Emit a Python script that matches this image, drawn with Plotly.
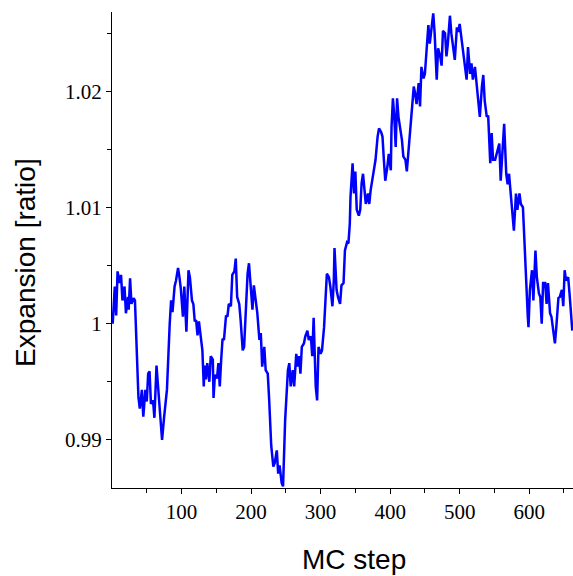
import plotly.graph_objects as go

mc_step = [1, 4, 6, 8, 11, 13, 15, 18, 20, 23, 24, 26, 28, 31, 33, 36, 38, 40, 43, 45,
           48, 50, 52, 54, 56, 59, 61, 64, 67, 69, 72, 75, 79, 83, 85, 87, 90, 92, 95, 97,
           99, 102, 104, 107, 110, 112, 115, 117, 119, 121, 123, 125, 128, 130, 132, 133, 135, 137, 140, 142,
           145, 146, 148, 151, 153, 155, 157, 159, 161, 164, 166, 168, 171, 173, 176, 178, 180, 183, 185, 188,
           190, 192, 195, 197, 200, 202, 204, 207, 209, 212, 214, 216, 219, 221, 224, 226, 227, 229, 232, 234,
           237, 239, 241, 244, 246, 249, 253, 255, 257, 259, 260, 262, 265, 267, 269, 271, 273, 276, 278, 281,
           283, 286, 288, 290, 293, 295, 297, 300, 302, 305, 307, 309, 312, 314, 317, 319, 320, 323, 325, 328,
           330, 333, 335, 338, 340, 342, 343, 346, 348, 350, 352, 355, 357, 359, 361, 363, 365, 368, 370, 372,
           375, 377, 379, 382, 384, 387, 389, 391, 393, 396, 398, 401, 402, 404, 406, 408, 410, 412, 414, 417,
           419, 422, 424, 427, 429, 431, 434, 436, 438, 441, 443, 445, 448, 450, 452, 455, 457, 460, 462, 464,
           467, 469, 472, 474, 476, 479, 481, 483, 486, 488, 491, 493, 496, 498, 500, 503, 505, 508, 510, 512,
           515, 517, 519, 522, 524, 527, 529, 532, 534, 536, 539, 541, 544, 546, 548, 551, 553, 557, 559, 562,
           564, 567, 569, 571, 574, 576, 578, 581, 583, 586, 588, 591, 593, 595, 598, 599, 601, 604, 606, 609,
           611, 614, 616, 618, 620, 623, 625, 627, 630, 632, 635, 637, 639, 642, 644, 647, 649, 651, 653, 656,
           658, 660, 662]

expansion = [1.0000, 1.0032, 1.0007, 1.0045, 1.0035, 1.0042, 1.0020, 1.0032, 1.0009, 1.0023,
             1.0012, 1.0039, 1.0017, 1.0022, 1.0020, 0.9972, 0.9937, 0.9927, 0.9943, 0.9920,
             0.9943, 0.9933, 0.9957, 0.9959, 0.9931, 0.9934, 0.9919, 0.9964, 0.9940, 0.9919,
             0.9900, 0.9920, 0.9943, 1.0000, 1.0020, 1.0010, 1.0032, 1.0037, 1.0048, 1.0040,
             1.0030, 1.0006, 1.0032, 0.9993, 1.0046, 1.0040, 1.0020, 1.0017, 1.0002, 1.0003,
             0.9990, 1.0002, 0.9983, 0.9977, 0.9946, 0.9964, 0.9952, 0.9966, 0.9950, 0.9972,
             0.9969, 0.9936, 0.9956, 0.9953, 0.9966, 0.9946, 0.9969, 0.9987, 0.9986, 1.0007,
             1.0006, 1.0017, 1.0015, 1.0042, 1.0045, 1.0056, 1.0023, 1.0017, 1.0003, 0.9977,
             0.9980, 1.0006, 1.0043, 1.0052, 1.0026, 1.0012, 1.0033, 1.0017, 1.0009, 0.9986,
             0.9992, 0.9963, 0.9980, 0.9960, 0.9957, 0.9935, 0.9917, 0.9895, 0.9877, 0.9880,
             0.9891, 0.9871, 0.9878, 0.9863, 0.9860, 0.9917, 0.9960, 0.9966, 0.9946, 0.9957,
             0.9960, 0.9946, 0.9974, 0.9963, 0.9972, 0.9957, 0.9980, 0.9983, 0.9989, 0.9994,
             0.9986, 0.9989, 0.9972, 1.0005, 0.9946, 0.9934, 0.9980, 0.9974, 0.9977, 0.9997,
             1.0026, 1.0043, 1.0040, 1.0032, 1.0015, 1.0037, 1.0065, 1.0029, 1.0023, 1.0017,
             1.0033, 1.0035, 1.0063, 1.0070, 1.0069, 1.0086, 1.0109, 1.0138, 1.0112, 1.0131,
             1.0098, 1.0093, 1.0098, 1.0121, 1.0129, 1.0118, 1.0103, 1.0112, 1.0103, 1.0115,
             1.0126, 1.0136, 1.0141, 1.0161, 1.0168, 1.0165, 1.0161, 1.0141, 1.0123, 1.0135,
             1.0146, 1.0132, 1.0169, 1.0194, 1.0178, 1.0152, 1.0194, 1.0178, 1.0169, 1.0158,
             1.0144, 1.0141, 1.0131, 1.0152, 1.0164, 1.0178, 1.0204, 1.0198, 1.0189, 1.0207,
             1.0187, 1.0221, 1.0211, 1.0215, 1.0232, 1.0257, 1.0241, 1.0258, 1.0267, 1.0250,
             1.0210, 1.0237, 1.0230, 1.0222, 1.0252, 1.0250, 1.0230, 1.0241, 1.0265, 1.0250,
             1.0235, 1.0227, 1.0255, 1.0251, 1.0258, 1.0242, 1.0235, 1.0218, 1.0210, 1.0238,
             1.0215, 1.0224, 1.0210, 1.0221, 1.0207, 1.0190, 1.0178, 1.0204, 1.0214, 1.0192,
             1.0178, 1.0179, 1.0138, 1.0164, 1.0141, 1.0141, 1.0146, 1.0155, 1.0123, 1.0158,
             1.0172, 1.0129, 1.0120, 1.0129, 1.0106, 1.0092, 1.0080, 1.0112, 1.0098, 1.0112,
             1.0103, 1.0100, 1.0072, 1.0035, 1.0006, 0.9997, 1.0029, 1.0046, 1.0020, 1.0063,
             1.0040, 1.0026, 1.0023, 1.0000, 1.0035, 1.0035, 1.0017, 1.0035, 1.0009, 1.0006,
             0.9992, 0.9983, 0.9997, 1.0022, 1.0023, 1.0029, 1.0015, 1.0046, 1.0037, 1.0040,
             1.0026, 1.0012, 0.9994]

x_major_ticks = [100, 200, 300, 400, 500, 600]
x_minor_ticks = [50, 150, 250, 350, 450, 550, 650]
y_major_ticks = [0.99, 1.0, 1.01, 1.02]
y_major_labels = ["0.99", "1", "1.01", "1.02"]
y_minor_ticks = [0.995, 1.005, 1.015, 1.025]

x_title = "MC step"
y_title = "Expansion [ratio]"

fig = go.Figure()
fig.add_trace(go.Scatter(
    x=mc_step, y=expansion, mode="lines",
    line=dict(color="#0000ff", width=2.5),
    showlegend=False,
))

tick_font = dict(family="Liberation Serif, Times New Roman, serif", size=21, color="black")
title_font = dict(family="Liberation Sans, Arial, sans-serif", size=28, color="black")

fig.update_layout(
    width=573, height=576,
    margin=dict(l=112, r=0, t=12, b=88),
    paper_bgcolor="white", plot_bgcolor="white",
    xaxis=dict(
        range=[0, 663], showgrid=False, zeroline=False,
        showline=True, linecolor="black", linewidth=1,
        ticks="outside", ticklen=5, tickcolor="black", tickwidth=1,
        tickmode="array", tickvals=x_major_ticks,
        minor=dict(tickmode="array", tickvals=x_minor_ticks, ticks="outside",
                   ticklen=4, tickcolor="black", tickwidth=1, showgrid=False),
        tickfont=tick_font,
    ),
    yaxis=dict(
        range=[0.98586, 1.02682], showgrid=False, zeroline=False,
        showline=True, linecolor="black", linewidth=1,
        ticks="outside", ticklen=5, tickcolor="black", tickwidth=1,
        tickmode="array", tickvals=y_major_ticks, ticktext=y_major_labels,
        minor=dict(tickmode="array", tickvals=y_minor_ticks, ticks="outside",
                   ticklen=4, tickcolor="black", tickwidth=1, showgrid=False),
        tickfont=tick_font,
    ),
    annotations=[
        dict(text=x_title, xref="paper", yref="paper", x=0.525, y=-0.151,
             xanchor="center", yanchor="middle", showarrow=False, font=title_font),
        dict(text=y_title, xref="paper", yref="paper", x=-0.1866, y=0.475,
             xanchor="center", yanchor="middle", textangle=-90, showarrow=False, font=title_font),
    ],
)

fig.write_html(
    "out.html",
    config={"displayModeBar": False},
    post_script="document.body.style.margin='0';document.body.style.overflow='hidden';",
)
